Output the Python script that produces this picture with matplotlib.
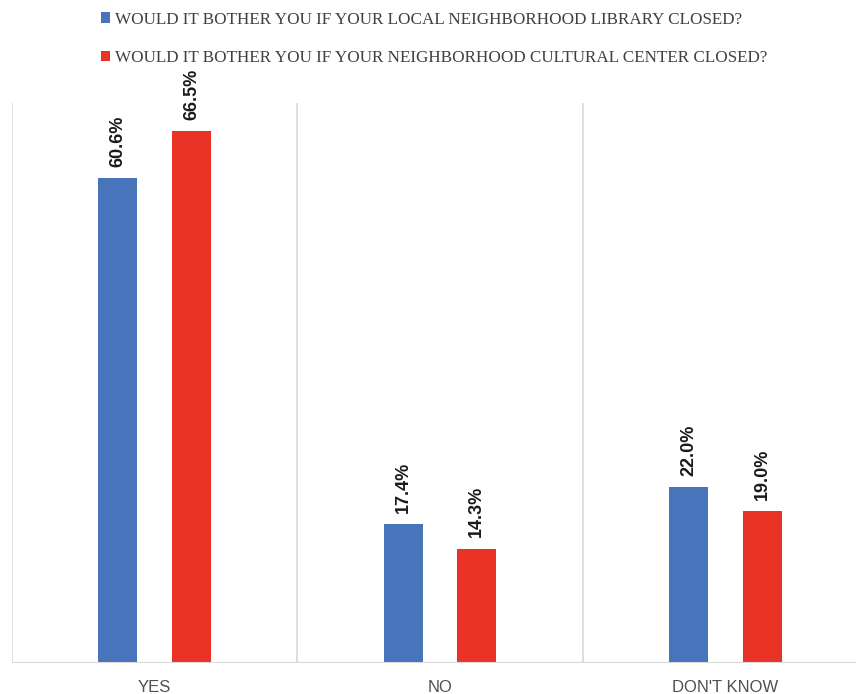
import numpy as np
import matplotlib.pyplot as plt
from matplotlib.patches import Patch

categories = ['YES', 'NO', "DON'T KNOW"]
library = [60.6, 17.4, 22.0]
cultural = [66.5, 14.3, 19.0]
series_names = [
    'WOULD IT BOTHER YOU IF YOUR LOCAL NEIGHBORHOOD LIBRARY CLOSED?',
    'WOULD IT BOTHER YOU IF YOUR NEIGHBORHOOD CULTURAL CENTER CLOSED?',
]

BLUE = '#4874BB'
RED = '#E93425'
GRID = '#D9D9D9'
LABEL_FONT = ['Liberation Sans Narrow', 'Liberation Sans', 'DejaVu Sans']

fig = plt.figure(figsize=(8.56, 6.94), dpi=100)
# plot area runs off the right edge of the canvas
ax = fig.add_axes([12 / 856, 31 / 694, 856 / 856, 560 / 694])

x = np.arange(len(categories))
w = 0.137
off = 0.129
b1 = ax.bar(x - off, library, w, color=BLUE, zorder=3)
b2 = ax.bar(x + off, cultural, w, color=RED, zorder=3)

for bars, vals in ((b1, library), (b2, cultural)):
    for rect, v in zip(bars, vals):
        ax.annotate(f'{v:.1f}%', (rect.get_x() + rect.get_width() / 2, v),
                    xytext=(0, 8), textcoords='offset points',
                    rotation=90, ha='center', va='bottom',
                    fontsize=13, fontweight='bold', color='#1a1a1a',
                    family=LABEL_FONT)

ax.set_xlim(-0.5, 2.5)
ax.set_ylim(0, 70)
for b in np.arange(-0.5, 3.0, 1.0):
    ax.axvline(b, color=GRID, lw=1.2, zorder=1)
ax.axhline(0, color=GRID, lw=1.5, zorder=4)

for s in ax.spines.values():
    s.set_visible(False)
ax.set_yticks([])
ax.set_xticks(x)
ax.set_xticklabels(categories, fontsize=12, color='#505050', family=LABEL_FONT)
ax.tick_params(axis='x', length=0, pad=12)

handles = [Patch(facecolor=BLUE), Patch(facecolor=RED)]
fig.legend(handles, series_names, loc='upper left',
           bbox_to_anchor=(94 / 856, 1 - 5 / 694), frameon=False,
           prop={'family': ['Liberation Serif', 'DejaVu Serif'], 'size': 12.3},
           labelcolor='#404040', handlelength=0.55, handleheight=0.6,
           handletextpad=0.3, labelspacing=1.3, borderaxespad=0)

fig.savefig('out.png', dpi=100)
